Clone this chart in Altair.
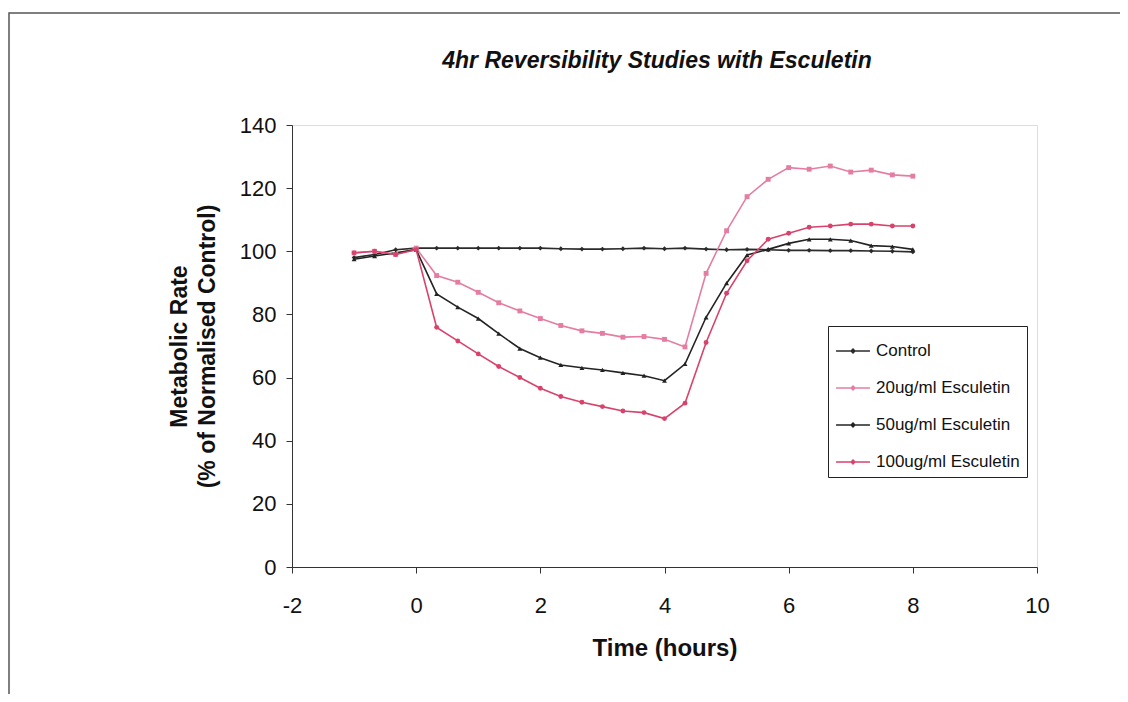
import altair as alt
import pandas as pd

# ---------------- data ----------------
time_h = [-1.0, -0.67, -0.33, 0.0,
          0.33, 0.67, 1.0, 1.33, 1.67, 2.0, 2.33, 2.67, 3.0, 3.33, 3.67, 4.0,
          4.33, 4.67, 5.0, 5.33, 5.67, 6.0, 6.33, 6.67, 7.0, 7.33, 7.67, 8.0]

series_names = ["Control", "20ug/ml Esculetin", "50ug/ml Esculetin", "100ug/ml Esculetin"]

control = [98.0, 99.0, 100.5, 101.0,
           101.0, 101.0, 101.0, 101.0, 101.0, 101.0, 100.8, 100.7, 100.7, 100.8, 101.0, 100.8,
           101.0, 100.7, 100.5, 100.6, 100.5, 100.3, 100.3, 100.2, 100.2, 100.1, 100.0, 99.8]

esc20 = [99.5, 100.0, 99.0, 101.0,
         92.3, 90.2, 87.0, 83.7, 81.1, 78.7, 76.5, 74.8, 74.0, 72.8, 73.0, 72.1,
         69.7, 93.0, 106.5, 117.3, 122.8, 126.5, 126.0, 127.0, 125.1, 125.7, 124.2, 123.8]

esc50 = [97.5, 98.5, 99.5, 100.5,
         86.5, 82.3, 78.7, 73.9, 69.2, 66.3, 64.0, 63.1, 62.4, 61.5, 60.6, 59.0,
         64.3, 79.1, 89.9, 98.8, 100.6, 102.5, 103.8, 103.8, 103.4, 101.8, 101.5, 100.6]

esc100 = [99.5, 100.0, 99.0, 100.5,
          75.9, 71.6, 67.5, 63.5, 60.0, 56.6, 54.0, 52.2, 50.8, 49.4, 48.9, 47.0,
          51.9, 71.1, 86.7, 97.0, 103.8, 105.7, 107.6, 108.0, 108.6, 108.6, 108.0, 108.0]

x_ticks = [-2, 0, 2, 4, 6, 8, 10]
y_ticks = [0, 20, 40, 60, 80, 100, 120, 140]

chart_title = "4hr Reversibility Studies with Esculetin"
x_title = "Time (hours)"
y_title = ["Metabolic Rate", "(% of Normalised Control)"]

series_colors = ["#2b2b2b", "#e57da2", "#232323", "#d8436c"]
series_shapes = ["diamond", "square", "triangle-up", "circle"]

# ---------------- table ----------------
rows = []
for name, vals in zip(series_names, [control, esc20, esc50, esc100]):
    for t, v in zip(time_h, vals):
        rows.append({"Time": t, "Rate": v, "Series": name})
df = pd.DataFrame(rows)

FONT = "Liberation Sans"

x_enc = alt.X("Time:Q",
              scale=alt.Scale(domain=[-2, 10], nice=False, zero=False),
              axis=alt.Axis(values=x_ticks, title=x_title, grid=False,
                            labelExpr="'' + datum.value",
                            labelFontSize=22, labelFont=FONT, labelColor="#111",
                            titleFontSize=24, titleFont=FONT, titleFontWeight="bold",
                            titleColor="#111", titlePadding=20,
                            tickSize=6, labelPadding=22, domainColor="#333",
                            tickColor="#333", labelFlush=False))
y_enc = alt.Y("Rate:Q",
              scale=alt.Scale(domain=[0, 140], nice=False),
              axis=alt.Axis(values=y_ticks, title=y_title, grid=False,
                            labelFontSize=22, labelFont=FONT, labelColor="#111",
                            titleFontSize=23, titleFont=FONT, titleFontWeight="bold",
                            titleColor="#111", titlePadding=20, titleLineHeight=28,
                            tickSize=6, labelPadding=10, domainColor="#333",
                            tickColor="#333", labelFlush=False))

legend_symbol = "M-1,0L1,0M0,-0.11L0.11,0L0,0.11L-0.11,0Z"

color_enc = alt.Color("Series:N",
                      scale=alt.Scale(domain=series_names, range=series_colors),
                      sort=series_names,
                      legend=alt.Legend(title=None, orient="none", legendX=536, legendY=201,
                                        symbolType=legend_symbol, symbolSize=1150,
                                        symbolStrokeWidth=1.5,
                                        labelFont=FONT, labelFontSize=17, labelColor="#111",
                                        labelOffset=5, labelLimit=300,
                                        strokeColor="#222", fillColor="white",
                                        padding=7, rowPadding=11))

lines = alt.Chart(df).mark_line(strokeWidth=1.6).encode(
    x=x_enc, y=y_enc, color=color_enc, detail="Series:N"
)

point_layers = []
for name, col, shp in zip(series_names, series_colors, series_shapes):
    point_layers.append(
        alt.Chart(df).transform_filter(alt.datum.Series == name)
        .mark_point(filled=True, size=24, opacity=1, strokeWidth=0, color=col, shape=shp)
        .encode(x="Time:Q", y="Rate:Q")
    )

frame = alt.Chart(pd.DataFrame({"k": [0]})).mark_rect(
    fill="transparent", stroke="#555", strokeWidth=1.5
).encode(x=alt.value(-283), x2=alt.value(900), y=alt.value(-112), y2=alt.value(700))

title_layer = alt.Chart(pd.DataFrame({"t": [chart_title]})).mark_text(
    font=FONT, fontSize=23, fontWeight="bold", fontStyle="italic", color="#111",
    align="center", baseline="middle"
).encode(text="t:N", x=alt.value(365), y=alt.value(-64))

chart = alt.layer(frame, title_layer, lines, *point_layers).properties(
    width=745, height=442,
    autosize=alt.AutoSizeParams(type="none"),
    padding={"left": 284, "top": 117, "right": 83, "bottom": 127},
).configure_view(stroke="#444", strokeWidth=1).configure(background="white")

chart.save("out.html", embed_options={"renderer": "svg", "actions": False})
